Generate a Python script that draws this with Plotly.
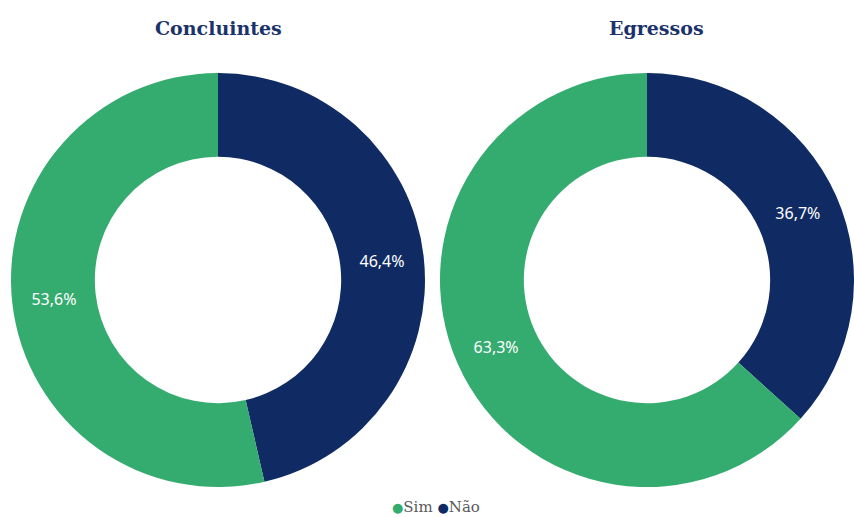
import plotly.graph_objects as go

categories = ["Não", "Sim"]
concluintes = [46.4, 53.6]
egressos = [36.7, 63.3]
titles = ["Concluintes", "Egressos"]
colors = ["#102B63", "#34AB6F"]
legend_order = ["Sim", "Não"]

W, H = 854, 517
fig = go.Figure()

y_dom = [1 - 487 / H, 1 - 73 / H]
domains = [[11 / W, 425 / W], [440 / W, 1.0]]
title_x = [218 / W, 656 / W]

for vals, dom in zip([concluintes, egressos], domains):
    fig.add_trace(go.Pie(
        labels=categories, values=vals, hole=0.595, sort=False,
        direction="clockwise", rotation=0,
        marker=dict(colors=colors, line=dict(width=0)),
        texttemplate="%{value:.1f}%", textposition="inside",
        insidetextorientation="horizontal",
        textfont=dict(family="Noto Sans", size=16, color="white"),
        domain=dict(x=dom, y=y_dom), showlegend=False, hoverinfo="label+value"))

for t, tx in zip(titles, title_x):
    fig.add_annotation(text="<b>" + t + "</b>", x=tx, y=1 - 28 / H, xref="paper", yref="paper",
                       showarrow=False, xanchor="center", yanchor="middle",
                       font=dict(family="DejaVu Serif", size=19, color="#1B336B"))

cmap = dict(zip(categories, colors))
legend_text = " ".join(
    "<span style='color:%s;font-size:13px'>●</span>%s" % (cmap[c], c) for c in legend_order)
fig.add_annotation(text=legend_text, x=436 / W, y=1 - 507 / H, xref="paper", yref="paper",
                   showarrow=False, xanchor="center", yanchor="middle",
                   font=dict(family="DejaVu Serif", size=15, color="#595959"))

fig.update_layout(
    width=W, height=H, margin=dict(l=0, r=0, t=0, b=0, autoexpand=False),
    paper_bgcolor="white", plot_bgcolor="white", separators=",.",
    showlegend=False,
)

fig.write_html("out.html")
